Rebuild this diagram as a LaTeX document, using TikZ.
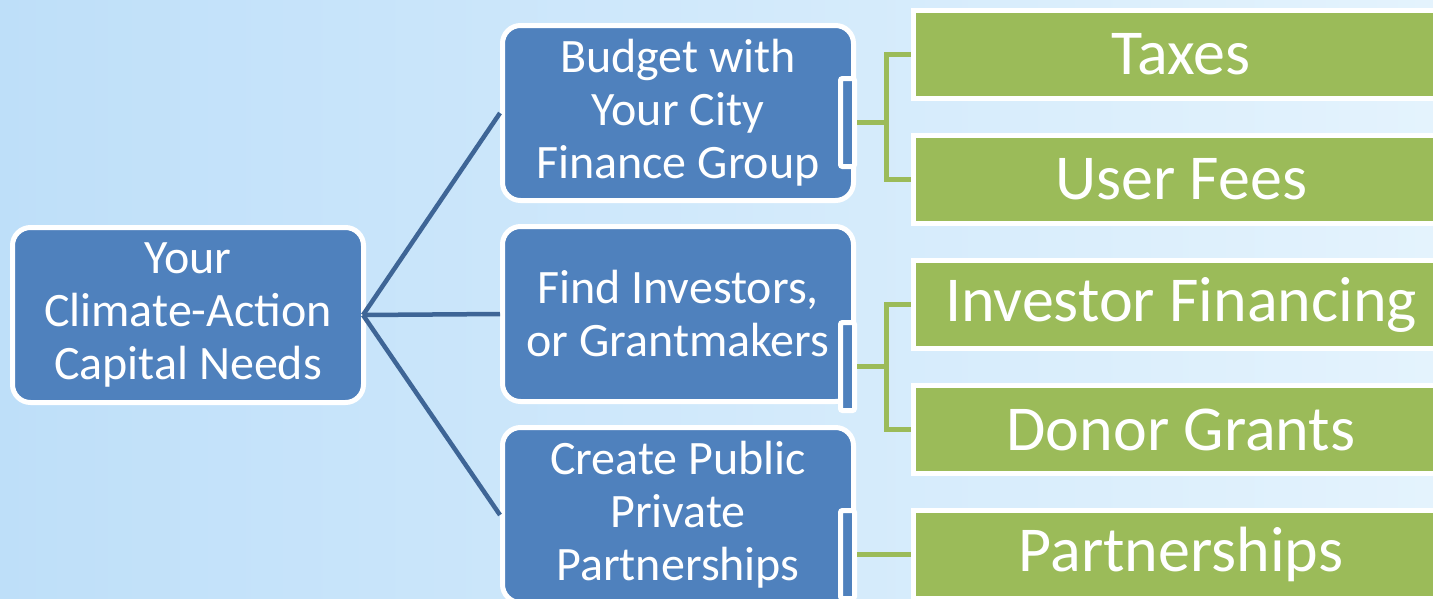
\documentclass[tikz,border=0pt]{standalone}
\usepackage{fontspec}
\setmainfont{Carlito}
\definecolor{bgL}{RGB}{190,223,249}
\definecolor{bgR}{RGB}{228,243,253}
\definecolor{boxblue}{RGB}{79,129,189}
\definecolor{boxgreen}{RGB}{155,187,89}
\definecolor{lineblue}{RGB}{62,101,150}
\begin{document}
\begin{tikzpicture}[x=1pt,y=-1pt,
  bluebox/.style={rectangle, rounded corners=18pt, fill=boxblue, draw=white, line width=5pt,
    minimum width=351pt, minimum height=175pt, inner sep=0pt, text=white, align=center,
    font=\fontsize{48}{53}\selectfont},
  tabbox/.style={rectangle, rounded corners=2pt, fill=boxblue, draw=white, line width=5pt,
    minimum width=14pt, minimum height=88pt, inner sep=0pt},
  greenbox/.style={rectangle, fill=boxgreen, draw=white, line width=5pt,
    minimum width=535pt, minimum height=88pt, inner sep=0pt, text=white,
    font=\fontsize{64}{70}\selectfont},
  bline/.style={draw=lineblue, line width=4.5pt},
  gline/.style={draw=boxgreen, line width=4.5pt}]
\useasboundingbox (0,0) rectangle (1433,598);
\shade[left color=bgL, right color=bgR] (0,0) rectangle (1433,598);

\node[bluebox] (root) at (188,315) {Your\\Climate-Action\\Capital Needs};
\node[bluebox] (budget) at (678,113) {Budget with\\Your City\\Finance Group};
\node[bluebox] (find) at (678,314) {Find Investors,\\or Grantmakers};
\node[bluebox] (ppp) at (678,515) {Create Public\\Private\\Partnerships};

\node[tabbox] (tab1) at (847.5,122.5) {};
\node[tabbox] (tab2) at (847.5,366.5) {};
\node[tabbox] (tab3) at (847.5,554.5) {};

\node[greenbox] (taxes) at (1181,54.5) {Taxes};
\node[greenbox] (fees) at (1181,179.5) {User Fees};
\node[greenbox] (invest) at (1181,304.5) {Investor Financing};
\node[greenbox] (donor) at (1181,429.5) {Donor Grants};
\node[greenbox] (partners) at (1181,554.5) {Partnerships};

\draw[bline] ([xshift=-3pt]root.east) -- (budget.west);
\draw[bline] ([xshift=-3pt]root.east) -- (find.west);
\draw[bline] ([xshift=-3pt]root.east) -- (ppp.west);

\draw[gline] (tab1.east) -- ++(29.5,0) |- (taxes.west);
\draw[gline] (tab1.east) -- ++(29.5,0) |- (fees.west);
\draw[gline] (tab2.east) -- ++(29.5,0) |- (invest.west);
\draw[gline] (tab2.east) -- ++(29.5,0) |- (donor.west);
\draw[gline] (tab3.east) -- (partners.west);
\end{tikzpicture}
\end{document}
